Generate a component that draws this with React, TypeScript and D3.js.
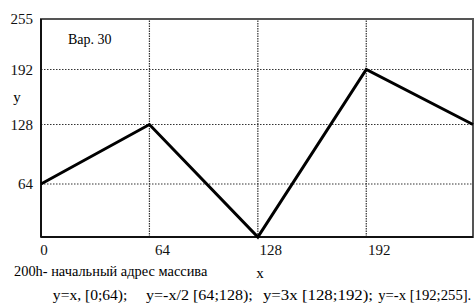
import React from "react";
import * as d3 from "d3";

// values
const xs = [0, 64, 128, 192, 255];
const ys = [64, 128, 0, 192, 128];
const xTicks = [0, 64, 128, 192];
const yTicks = [64, 128, 192, 255];
const gridTicks = [64, 128, 192];

const title = "Вар. 30";
const note = "200h- начальный адрес массива";
// formula pieces and the x value (in plot units) where each one starts / ends
const formulaParts = ["y=x, [0;64);", "y=-x/2 [64;128);", "y=3x [128;192);", "y=-x [192;255]."];
const formulaStarts = [7, 62, 131, 199];
const formulaEnds = [51, 125, 196, 254];

const W = 475;
const H = 303;
const margin = { top: 19, right: 2, bottom: 66, left: 41 };

export default function App() {
  const x = d3.scaleLinear().domain([0, 255]).range([margin.left, W - margin.right]);
  // the source plot's vertical spacing is slightly uneven, so a piecewise scale
  const y = d3.scaleLinear()
    .domain([0, 64, 128, 192, 255])
    .range([H - margin.bottom, 184, 124.5, 69.5, margin.top]);

  const pts: [number, number][] = xs.map((v, i) => [v, ys[i]]);
  const line = d3.line<[number, number]>()
    .x(d => x(d[0]))
    .y(d => y(d[1]));

  const font = "'Liberation Serif', 'Times New Roman', serif";

  return (
    <svg
      width={W}
      height={H}
      style={{ position: "absolute", left: 0, top: 0, background: "#fff" }}
      fontFamily={font}
    >
      {/* grid */}
      {gridTicks.map(t => (
        <line key={"gx" + t} x1={x(t)} x2={x(t)} y1={y(0)} y2={y(255)}
          stroke="#333" strokeWidth={1.2} strokeDasharray="1.5,1" />
      ))}
      {gridTicks.map(t => (
        <line key={"gy" + t} x1={x(0)} x2={x(255)} y1={y(t)} y2={y(t)}
          stroke="#333" strokeWidth={1} strokeDasharray="1.5,1.5" />
      ))}

      {/* frame */}
      <rect x={x(0)} y={y(255)} width={x(255) - x(0)} height={y(0) - y(255)}
        fill="none" stroke="#555" strokeWidth={2} />
      <line x1={x(0)} x2={x(0)} y1={y(255)} y2={y(0)} stroke="#111" strokeWidth={2} />
      <line x1={x(0)} x2={x(255)} y1={y(0)} y2={y(0)} stroke="#111" strokeWidth={2} />

      {/* data */}
      <path d={line(pts) || ""} fill="none" stroke="#000" strokeWidth={3} strokeLinejoin="miter" />

      {/* y tick labels */}
      {yTicks.map(t => (
        <text key={"yl" + t} x={33} y={y(t)} dy="0.35em" textAnchor="end" fontSize={15} fill="#111">
          {t}
        </text>
      ))}
      <text x={17} y={97} dy="0.35em" textAnchor="middle" fontSize={15}>y</text>

      {/* x tick labels */}
      {xTicks.map((t, i) => (
        <text key={"xl" + t} x={x(t) + (i === 0 ? 3 : 13)} y={255} textAnchor="middle" fontSize={15} fill="#111">
          {t}
        </text>
      ))}
      <text x={260} y={278} textAnchor="middle" fontSize={15}>x</text>

      <text x={68} y={44} fontSize={14}>{title}</text>
      <text x={14} y={276} fontSize={14.4}>{note}</text>
      {formulaParts.map((s, i) => (
        <text key={"f" + i} x={x(formulaStarts[i])} y={300} fontSize={15.5}
          textLength={x(formulaEnds[i]) - x(formulaStarts[i])} lengthAdjust="spacingAndGlyphs">
          {s}
        </text>
      ))}
    </svg>
  );
}
